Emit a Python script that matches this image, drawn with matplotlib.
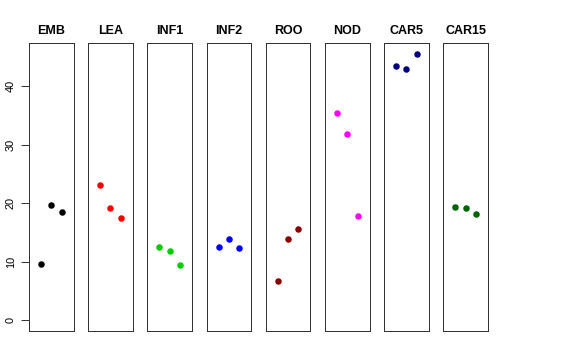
import matplotlib
matplotlib.use("Agg")
import matplotlib.pyplot as plt

plt.rcParams['font.family'] = ['Liberation Sans', 'DejaVu Sans']

groups = ["EMB", "LEA", "INF1", "INF2", "ROO", "NOD", "CAR5", "CAR15"]
colors = ["black", "red", "#00CD00", "blue", "#8B0000", "magenta", "#000080", "#006400"]
values = {
    "EMB":   [9.6, 19.7, 18.5],
    "LEA":   [23.1, 19.1, 17.4],
    "INF1":  [12.5, 11.8, 9.5],
    "INF2":  [12.5, 13.8, 12.4],
    "ROO":   [6.7, 13.8, 15.6],
    "NOD":   [35.4, 31.8, 17.8],
    "CAR5":  [43.4, 42.9, 45.5],
    "CAR15": [19.4, 19.2, 18.2],
}
yticks = [0, 10, 20, 30, 40]

W, H = 576, 360
fig = plt.figure(figsize=(W / 72, H / 72), dpi=72)

ymax = max(max(v) for v in values.values())
ypad = 0.04 * ymax
xpad = 0.04 * 4

left0, pw, step = 29, 44.5, 59.2
top, bottom = 43, 331
for i, (g, c) in enumerate(zip(groups, colors)):
    left = left0 + i * step
    ax = fig.add_axes([left / W, 1 - bottom / H, pw / W, (bottom - top) / H])
    xs = list(range(1, len(values[g]) + 1))
    ax.plot(xs, values[g], 'o', color=c, markersize=6.5, markeredgewidth=0)
    ax.set_xlim(0 - xpad, 4 + xpad)
    ax.set_ylim(0 - ypad, ymax + ypad)
    ax.set_xticks([])
    ax.set_title(g, fontsize=12.5, fontweight='bold', pad=9)
    for s in ax.spines.values():
        s.set_linewidth(1.0)
        s.set_color('#333333')
    if i == 0:
        ax.set_yticks(yticks)
        ax.set_yticklabels([str(t) for t in yticks], rotation=90, va='center', fontsize=11)
        ax.tick_params(axis='y', length=8, width=1, pad=5, color='#333333')
    else:
        ax.set_yticks([])

fig.savefig("out.png", dpi=72)
